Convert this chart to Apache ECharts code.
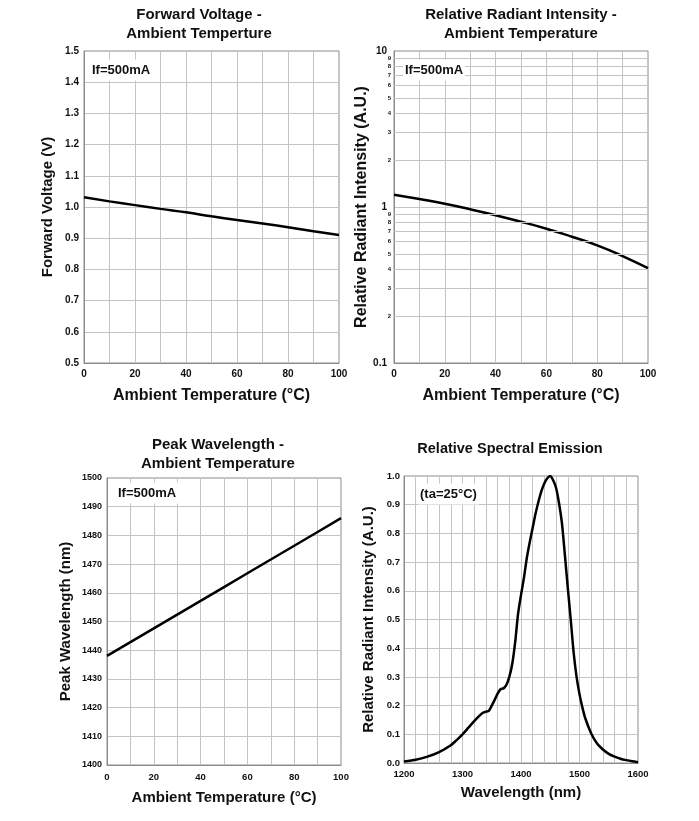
<!DOCTYPE html>
<html>
<head>
<meta charset="utf-8">
<title>LED characteristics</title>
<script src="https://cdn.jsdelivr.net/npm/echarts@6/dist/echarts.min.js"></script>
<style>
	html, body { margin: 0; padding: 0; background: #fff; }
	#chartDiv { width: 699px; height: 821px; }
</style>
</head>
<body>
<div id="chartDiv"></div>
<script>
// ambient temperature (°C) for the three temperature charts
var tempC = [0, 10, 20, 30, 40, 50, 60, 70, 80, 90, 100];
// forward voltage (V)
var forwardVoltage = [1.031, 1.018, 1.006, 0.994, 0.983, 0.970, 0.958, 0.947, 0.935, 0.922, 0.910];
// relative radiant intensity (A.U.), log axis
var radiantIntensity = [1.20, 1.125, 1.05, 0.966, 0.885, 0.805, 0.726, 0.645, 0.568, 0.485, 0.405];
// peak wavelength (nm)
var peakWavelength = [1438.0, 1442.8, 1447.6, 1452.4, 1457.2, 1462.0, 1466.8, 1471.6, 1476.4, 1481.2, 1486.0];

// relative spectral emission at ta=25°C
var wavelengthNm = [1200, 1220, 1240, 1260, 1280, 1290, 1300, 1310, 1320, 1330, 1335, 1340, 1345, 1350,
	1355, 1360, 1365, 1370, 1375, 1380, 1385, 1390, 1395, 1400, 1405, 1410, 1415, 1420, 1425, 1430,
	1435, 1440, 1445, 1450, 1455, 1460, 1465, 1470, 1475, 1480, 1485, 1490, 1495, 1500, 1505, 1510,
	1520, 1530, 1540, 1550, 1560, 1570, 1580, 1590, 1600];
var spectralIntensity = [0.005, 0.011, 0.022, 0.038, 0.062, 0.080, 0.100, 0.123, 0.146, 0.167, 0.175, 0.179, 0.182, 0.200,
	0.220, 0.242, 0.257, 0.260, 0.272, 0.300, 0.345, 0.420, 0.520, 0.585, 0.645, 0.715, 0.770, 0.820, 0.870, 0.912,
	0.948, 0.975, 0.992, 1.000, 0.985, 0.958, 0.905, 0.835, 0.725, 0.610, 0.500, 0.385, 0.300, 0.240, 0.193, 0.155,
	0.103, 0.068, 0.047, 0.032, 0.022, 0.015, 0.010, 0.006, 0.003];

// minor decade lines of the log axis and their labels
var logMinorValues = [2, 3, 4, 5, 6, 7, 8, 9, 0.2, 0.3, 0.4, 0.5, 0.6, 0.7, 0.8, 0.9];
var logMinorLabels = ['2', '3', '4', '5', '6', '7', '8', '9', '2', '3', '4', '5', '6', '7', '8', '9'];

var FONT = '"Liberation Sans", Arial, sans-serif';
var GRID_COLOR = '#c4c4c4';
var AXIS_COLOR = '#8c8c8c';

function pairs(xs, ys)
{
	var out = [];
	for (var i = 0; i < xs.length; i++) {
		out.push([xs[i], ys[i]]);
	}
	return out;
}

// common axis styling
function makeAxis(opt)
{
	var axis = {
		gridIndex: opt.grid,
		type: opt.type || 'value',
		min: opt.min,
		max: opt.max,
		name: opt.name,
		nameLocation: 'middle',
		nameGap: opt.nameGap,
		nameTextStyle: { fontFamily: FONT, fontWeight: 'bold', fontSize: opt.nameSize, color: '#111' },
		axisLine: { show: true, lineStyle: { color: AXIS_COLOR, width: 1 } },
		axisTick: { show: false },
		axisLabel: {
			margin: opt.margin,
			fontFamily: FONT, fontWeight: 'bold', fontSize: opt.labelSize || 10, color: '#111',
			formatter: opt.formatter,
			showMinLabel: true, showMaxLabel: true
		},
		splitLine: { show: true, showMinLine: false, showMaxLine: false, lineStyle: { color: GRID_COLOR, width: 1 } }
	};
	if (opt.interval !== undefined) axis.interval = opt.interval;
	if (opt.type === 'log') { axis.logBase = 10; axis.splitNumber = 2; }
	return axis;
}

function everyN(n, digits)
{
	return function(v) {
		var r = Math.round(v * 1000) / 1000;
		if (Math.abs(r / n - Math.round(r / n)) > 1e-6) return '';
		return digits ? r.toFixed(digits) : String(r);
	};
}

//text drawn on the page: titles and the small notes inside the plots
function textLabel(text, x, y, size, align, boxed)
{
	var style = {
		text: text, x: x, y: y,
		font: 'bold ' + size + 'px ' + FONT,
		fill: '#111',
		textAlign: align, align: align,
		textVerticalAlign: 'middle', verticalAlign: 'middle',
		lineHeight: 19
	};
	if (boxed) {
		style.backgroundColor = '#fff';
		style.padding = [1, 2, 1, 2];
	}
	return { type: 'text', z: 100, style: style };
}

function generateChart()
{
	var chart = echarts.init(document.getElementById('chartDiv'));

	var minorData = [];
	for (var i = 0; i < logMinorValues.length; i++) {
		minorData.push({ yAxis: logMinorValues[i], label: { formatter: logMinorLabels[i] } });
	}

	var option = {
		animation: false,
		backgroundColor: '#fff',
		graphic: [
			textLabel('Forward Voltage -\nAmbient Temperture', 199, 24.5, 15, 'center'),
			textLabel('Relative Radiant Intensity -\nAmbient Temperature', 521, 24.5, 15, 'center'),
			textLabel('Peak Wavelength -\nAmbient Temperature', 218, 454, 15, 'center'),
			textLabel('Relative Spectral Emission', 510, 449, 14.5, 'center'),
			textLabel('If=500mA', 90, 70, 13, 'left', true),
			textLabel('If=500mA', 403, 70, 13, 'left', true),
			textLabel('If=500mA', 116, 493, 13, 'left', true),
			textLabel('(ta=25°C)', 418, 494, 13, 'left', true)
		],
		grid: [
			{ left: 84, top: 51, width: 255, height: 312, show: true, borderColor: AXIS_COLOR, borderWidth: 1 },
			{ left: 394, top: 51, width: 254, height: 312, show: true, borderColor: AXIS_COLOR, borderWidth: 1 },
			{ left: 107, top: 478, width: 234, height: 287, show: true, borderColor: AXIS_COLOR, borderWidth: 1 },
			{ left: 404, top: 476, width: 234, height: 287, show: true, borderColor: AXIS_COLOR, borderWidth: 1 }
		],
		xAxis: [
			makeAxis({ grid: 0, min: 0, max: 100, interval: 10, name: 'Ambient Temperature (°C)', nameGap: 25, nameSize: 16, margin: 6, formatter: everyN(20) }),
			makeAxis({ grid: 1, min: 0, max: 100, interval: 10, name: 'Ambient Temperature (°C)', nameGap: 25, nameSize: 16, margin: 6, formatter: everyN(20) }),
			makeAxis({ grid: 2, min: 0, max: 100, interval: 10, name: 'Ambient Temperature (°C)', nameGap: 25, nameSize: 15, margin: 7, labelSize: 9.5, formatter: everyN(20) }),
			makeAxis({ grid: 3, min: 1200, max: 1600, interval: 20, name: 'Wavelength (nm)', nameGap: 22, nameSize: 15, margin: 6, labelSize: 9.5, formatter: everyN(100) })
		],
		yAxis: [
			makeAxis({ grid: 0, min: 0.5, max: 1.5, interval: 0.1, name: 'Forward Voltage (V)', nameGap: 29, nameSize: 15, margin: 5, formatter: everyN(0.1, 1) }),
			makeAxis({ grid: 1, type: 'log', min: 0.1, max: 10, name: 'Relative Radiant Intensity (A.U.)', nameGap: 22, nameSize: 16, margin: 7,
				formatter: function(v) { return v < 1 ? v.toFixed(1) : String(Math.round(v)); } }),
			makeAxis({ grid: 2, min: 1400, max: 1500, interval: 10, name: 'Peak Wavelength (nm)', nameGap: 34, nameSize: 15, margin: 5, labelSize: 9, formatter: everyN(10) }),
			makeAxis({ grid: 3, min: 0, max: 1, interval: 0.1, name: 'Relative Radiant Intensity (A.U.)', nameGap: 28, nameSize: 15, margin: 4, labelSize: 9.5, formatter: everyN(0.1, 1) })
		],
		series: [
			{
				name: 'Forward Voltage', type: 'line', xAxisIndex: 0, yAxisIndex: 0, z: 3,
				data: pairs(tempC, forwardVoltage), showSymbol: false, smooth: true,
				lineStyle: { color: '#000', width: 2.5 }
			},
			{
				// minor grid lines of the log axis
				name: 'log minor', type: 'line', xAxisIndex: 1, yAxisIndex: 1, z: 1, data: [],
				markLine: {
					silent: true, symbol: ['none', 'none'], animation: false,
					lineStyle: { color: GRID_COLOR, type: 'solid', width: 1 },
					label: { show: true, position: 'start', distance: 3, fontFamily: FONT, fontWeight: 'bold', fontSize: 6, color: '#111' },
					emphasis: { disabled: true },
					data: minorData
				}
			},
			{
				name: 'Relative Radiant Intensity', type: 'line', xAxisIndex: 1, yAxisIndex: 1, z: 3,
				data: pairs(tempC, radiantIntensity), showSymbol: false, smooth: true,
				lineStyle: { color: '#000', width: 2.5 }
			},
			{
				name: 'Peak Wavelength', type: 'line', xAxisIndex: 2, yAxisIndex: 2, z: 3,
				data: pairs(tempC, peakWavelength), showSymbol: false,
				lineStyle: { color: '#000', width: 2.5 }
			},
			{
				name: 'Relative Spectral Emission', type: 'line', xAxisIndex: 3, yAxisIndex: 3, z: 3,
				data: pairs(wavelengthNm, spectralIntensity), showSymbol: false, smooth: 0.25,
				lineStyle: { color: '#000', width: 2.5 }
			}
		]
	};
	chart.setOption(option);
}

generateChart();
</script>
</body>
</html>
